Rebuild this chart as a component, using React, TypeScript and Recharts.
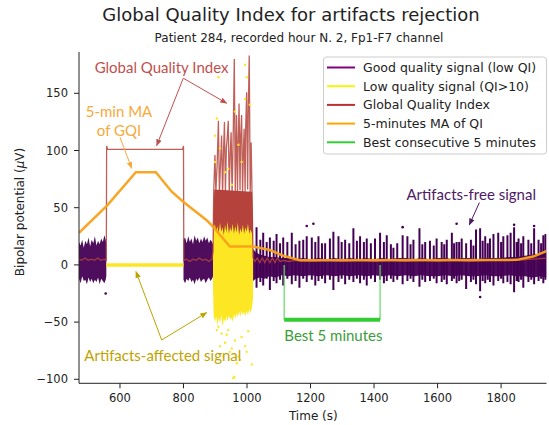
import React from 'react';
import { ComposedChart, XAxis, YAxis, Area, Line, Scatter, ReferenceLine } from 'recharts';

// ---------- axes ----------
const xDomain: [number, number] = [471, 1943];
const yDomain: [number, number] = [-103.5, 186.1];
const xTicks = [600, 800, 1000, 1200, 1400, 1600, 1800];
const yTicks = [-100, -50, 0, 50, 100, 150];

// ---------- good quality signal (time, low, high) ----------
const goodLeft = [
  [471, -12, 20], [476, -16, 17], [481, -10, 22], [486, -14, 15], [491, -13, 21], [496, -17, 18],
  [501, -11, 24], [506, -15, 16], [511, -12, 22], [516, -16, 19], [521, -13, 25], [526, -15, 17],
  [531, -11, 21], [536, -17, 18], [541, -12, 23], [546, -14, 20], [551, -16, 26], [555, -13, 22], [557, -10, 18],
];
const goodMid = [
  [800, -13, 22], [805, -16, 24], [810, -12, 19], [815, -14, 25], [820, -11, 20], [825, -15, 23],
  [830, -13, 18], [835, -17, 26], [840, -12, 21], [845, -14, 24], [850, -11, 19], [855, -15, 23],
  [860, -13, 20], [865, -12, 25], [870, -16, 21], [875, -13, 24], [880, -11, 19], [885, -14, 22],
  [890, -12, 20], [893, -10, 18],
];
const goodRight = [
  [1019, -14, 14], [1028, -12, 11], [1040, -11, 9], [1055, -12, 8], [1070, -10, 7], [1090, -11, 7],
  [1110, -9, 6], [1130, -10, 6], [1150, -9, 5], [1175, -10, 6], [1200, -9, 5], [1225, -10, 6],
  [1250, -9, 5], [1275, -10, 6], [1300, -9, 5], [1325, -10, 6], [1350, -9, 5], [1375, -10, 6],
  [1400, -9, 5], [1425, -10, 6], [1450, -9, 5], [1475, -10, 6], [1500, -9, 6], [1525, -10, 5],
  [1550, -9, 6], [1575, -10, 5], [1600, -10, 6], [1625, -9, 6], [1650, -10, 5], [1675, -9, 6],
  [1700, -10, 6], [1725, -10, 5], [1750, -9, 6], [1775, -10, 6], [1800, -10, 6], [1825, -9, 7],
  [1850, -10, 7], [1875, -10, 8], [1900, -11, 9], [1925, -10, 10], [1943, -11, 11],
];
const goodSpikes = [
  [1030, -20, 33], [1042, -15, 22], [1051, -18, 28], [1062, -12, 20], [1072, -22, 24], [1084, -14, 21],
  [1093, -16, 27], [1104, -13, 19], [1114, -18, 24], [1127, -12, 20], [1141, -17, 28], [1153, -14, 18],
  [1165, -20, 21], [1177, -12, 22], [1188, -15, 25], [1204, -13, 24], [1215, -18, 20], [1225, -14, 25],
  [1236, -12, 19], [1246, -16, 19], [1261, -13, 23], [1272, -22, 29], [1288, -15, 25], [1298, -12, 20],
  [1309, -17, 22], [1322, -13, 19], [1335, -15, 32], [1346, -12, 21], [1356, -16, 25], [1368, -13, 20],
  [1377, -18, 23], [1390, -12, 19], [1403, -15, 23], [1419, -13, 28], [1431, -16, 20], [1440, -14, 26],
  [1453, -12, 18], [1461, -15, 15], [1473, -13, 19], [1490, -17, 26], [1505, -14, 25], [1515, -12, 18],
  [1524, -15, 22], [1543, -19, 32], [1552, -13, 18], [1561, -15, 20], [1576, -14, 21], [1588, -12, 17],
  [1597, -16, 23], [1613, -15, 20], [1621, -13, 18], [1629, -17, 22], [1645, -14, 28], [1652, -12, 19],
  [1660, -16, 20], [1668, -14, 20], [1676, -13, 23], [1690, -21, 19], [1705, -15, 22], [1713, -13, 17],
  [1721, -17, 31], [1734, -23, 32], [1742, -14, 21], [1750, -16, 25], [1758, -13, 19], [1765, -15, 23],
  [1776, -18, 27], [1791, -14, 28], [1800, -12, 20], [1807, -16, 25], [1820, -15, 26], [1830, -17, 28],
  [1841, -24, 33], [1849, -14, 20], [1855, -15, 23], [1863, -13, 19], [1870, -20, 25], [1886, -15, 22],
  [1895, -13, 19], [1904, -17, 32], [1918, -14, 22], [1926, -12, 19], [1933, -16, 26], [1940, -13, 27],
];
const goodDots = [
  [1188, 34], [1209, 36], [1490, 33], [1660, 36], [1841, 35], [1904, 34], [1734, -28], [555, -25],
];

// ---------- low quality signal ----------
const lowFlat = [[557, 0], [800, 0]];
const lowBand = [
  [893, -20, 20], [895, -44, 30], [899, -50, 36], [903, -45, 28], [907, -53, 34], [911, -46, 27],
  [915, -51, 37], [919, -44, 29], [923, -54, 33], [927, -47, 26], [931, -50, 35], [935, -45, 28],
  [939, -49, 38], [943, -44, 27], [947, -48, 33], [951, -46, 29], [955, -50, 36], [959, -43, 27],
  [963, -47, 34], [967, -42, 28], [971, -46, 37], [975, -41, 26], [979, -45, 32], [983, -40, 28],
  [987, -44, 35], [991, -41, 27], [995, -45, 33], [999, -40, 29], [1003, -44, 36], [1007, -39, 27],
  [1011, -42, 31], [1015, -38, 28], [1019, -30, 22],
];
const lowDots = [
  [910, -54], [920, -60], [941, -57], [931, -68], [962, -66], [983, -63], [994, -71], [946, -76],
  [973, -80], [1004, -58], [915, -71], [925, -80], [957, -99], [978, -83], [1015, -87], [999, -76],
  [905, -57], [936, -61], [952, -73], [968, -86], [960, -98],
  [910, 164], [994, 175], [999, 164], [899, 113], [905, 128], [915, 102], [941, 84], [962, 134],
  [983, 90], [994, 145], [1009, 140], [899, 90], [973, 105], [952, 70], [931, 81],
];

// ---------- Global Quality Index ----------
const gqiDense = [[894, 18, 45], [897, 20, 66], [1016, 20, 64], [1019, 15, 40]];
const gqi = [
  [471, 5], [480, 4], [490, 6], [500, 4], [510, 5], [520, 4], [530, 6], [540, 4], [550, 5], [557, 4],
  [558, 104], [561, 101], [797, 101], [800, 104], [801, 4],
  [810, 5], [820, 3], [830, 5], [840, 4], [850, 6], [860, 4], [870, 5], [880, 3], [890, 5], [893, 12],
  [895, 62], [899, 96], [902, 64], [906, 88], [910, 126], [913, 62], [917, 92], [920, 113], [923, 60],
  [926, 98], [929, 125], [932, 63], [935, 102], [938, 112], [941, 126], [944, 62], [947, 97], [950, 116],
  [953, 60], [957, 121], [960, 180], [963, 64], [965, 97], [967, 131], [970, 62], [972, 104], [975, 141],
  [978, 65], [980, 112], [983, 131], [986, 62], [989, 103], [991, 119], [994, 64], [996, 122], [999, 151],
  [1002, 66], [1004, 133], [1007, 183], [1010, 63], [1013, 107], [1016, 58], [1019, 6],
  [1025, 3], [1032, 6], [1040, 2], [1048, 6], [1056, 2], [1064, 6], [1072, 2], [1080, 6], [1088, 2],
  [1096, 6], [1104, 3], [1115, 4], [1130, 3], [1150, 4], [1200, 3], [1250, 4], [1300, 3], [1350, 4],
  [1400, 3], [1450, 4], [1500, 3], [1550, 4], [1600, 3], [1650, 4], [1700, 3], [1750, 4], [1800, 4],
  [1850, 4], [1900, 5], [1943, 6],
];

// ---------- 5-minute moving average of QI ----------
const maQI = [
  [471, 28], [560, 52], [650, 81], [713, 81], [763, 64], [800, 55], [873, 39], [893, 33.5],
  [946, 16], [1020, 16], [1072, 13], [1114, 8], [1167, 4], [1849, 4.4], [1901, 7.3], [1943, 12],
];

// ---------- best consecutive 5 minutes ----------
const bestStart = 1117;
const bestEnd = 1419;
const bestLevel = -48;
const bestTop = 0;

// ---------- annotations (anchor in data coords) ----------
const annotationTexts = [
  { id: 'gqi', t: 731, v: 173.3, text: 'Global Quality Index' },
  { id: 'ma', t: 597, v: 134.6, text: '5-min MA' },
  { id: 'ma', t: 597, v: 118, text: 'of GQI' },
  { id: 'low', t: 735, v: -78.7, text: 'Artifacts-affected signal' },
  { id: 'good', t: 1706, v: 61.8, text: 'Artifacts-free signal' },
  { id: 'best', t: 1272, v: -61.2, text: 'Best 5 minutes' },
];
const annotationArrows = [
  { id: 'gqi', from: [799.3, 163.2], to: [715.6, 104.3] },
  { id: 'gqi', from: [799.3, 163.2], to: [936, 141.3] },
  { id: 'ma', from: [600, 111.6], to: [636.8, 84.5] },
  { id: 'low', from: [731.3, -65.6], to: [650.4, -5.8] },
  { id: 'low', from: [731.3, -65.6], to: [873, -41.7] },
  { id: 'good', from: [1731.7, 54.5], to: [1700, 35] },
];

const legendItems = [
  { key: 'good', label: 'Good quality signal (low QI)' },
  { key: 'low', label: 'Low quality signal (QI>10)' },
  { key: 'gqi', label: 'Global Quality Index' },
  { key: 'ma', label: '5-minutes MA of QI' },
  { key: 'best', label: 'Best consecutive 5 minutes' },
];

// ---------- styles ----------
const C = {
  purple: '#440154',
  yellow: '#fde725',
  red: '#b5423b',
  orange: '#f9a11b',
  green: '#33cc33',
  greenThin: '#62d862',
};
const annColor: Record<string, string> = {
  gqi: '#c0504d',
  ma: '#f7a93b',
  low: '#bfa300',
  good: '#4e1a66',
  best: '#3a9d3a',
};
const legendColor: Record<string, string> = {
  good: '#800080',
  low: '#f5f50a',
  gqi: '#b83232',
  ma: '#ffa500',
  best: '#32cd32',
};

const band = (rows: number[][]) => rows.map(([t, lo, hi]) => ({ t, band: [lo, hi] }));
const pts = (rows: number[][]) => rows.map(([t, v]) => ({ t, v }));
// each spike becomes a vertical stroke: low -> high, then a gap
const spikeStrokes = goodSpikes.flatMap(([t, lo, hi]) => [
  { t, v: lo }, { t, v: hi }, { t, v: null },
]);

const DV = 'DejaVu Sans';
const tickStyle = { fontSize: 11.5, fill: '#222', fontFamily: DV };
const minus = (v: number) => String(v).replace('-', '\u2212');

const dot = (color: string, r: number) => (p: any) =>
  <circle cx={p.cx} cy={p.cy} r={r} fill={color} />;

const textShape = (p: any) => (
  <text x={p.cx} y={p.cy} textAnchor="middle" dominantBaseline="central"
    fill={annColor[p.payload.id]} fontSize={15} fontFamily="Lato">{p.payload.text}</text>
);

export default function App() {
  return (
    <div style={{ position: 'absolute', left: 0, top: 0, width: 549, height: 425, background: '#fff' }}>
      <svg width={549} height={425} style={{ position: 'absolute', left: 0, top: 0 }}>
        <defs>
          {Object.keys(annColor).map((k) => (
            <marker key={k} id={'arr-' + k} viewBox="0 0 10 10" refX="9" refY="5"
              markerWidth="7" markerHeight="7" orient="auto">
              <path d="M0,1 L10,5 L0,9 z" fill={annColor[k]} />
            </marker>
          ))}
        </defs>
        <text x={291} y={20.7} textAnchor="middle" fontSize={18} fontFamily={DV} fill="#222">
          Global Quality Index for artifacts rejection
        </text>
        <text x={299} y={41.7} textAnchor="middle" fontSize={12} fontFamily={DV} fill="#222">
          Patient 284, recorded hour N. 2, Fp1-F7 channel
        </text>
        <text x={313.3} y={419.5} textAnchor="middle" fontSize={12} fontFamily={DV} fill="#222">Time (s)</text>
        <text transform="translate(24,212) rotate(-90)" textAnchor="middle" fontSize={12} fontFamily={DV} fill="#222">
          Bipolar potential (<tspan fontStyle="italic">μ</tspan>V)
        </text>
      </svg>
      <div style={{ position: 'absolute', left: 0, top: 0 }}>
        <ComposedChart width={549} height={425}
          margin={{ top: 52, right: 2.5, bottom: 11.7, left: 19 }}>
          <XAxis dataKey="t" type="number" domain={xDomain} allowDataOverflow ticks={xTicks}
            tickSize={5} tickMargin={6} tick={tickStyle} stroke="#222" height={30} />
          <XAxis xAxisId="top" orientation="top" type="number" domain={xDomain} allowDataOverflow
            height={0} tick={false} tickLine={false} stroke="#222" />
          <YAxis type="number" domain={yDomain} allowDataOverflow ticks={yTicks} width={60}
            tickSize={5} tickMargin={6} tick={tickStyle} stroke="#222" tickFormatter={minus} />
          <YAxis yAxisId="right" orientation="right" type="number" domain={yDomain} allowDataOverflow
            width={0} tick={false} tickLine={false} stroke="#222" />

          <Area data={band(goodLeft)} dataKey="band" type="linear" stroke="none" fill={C.purple}
            fillOpacity={0.95} isAnimationActive={false} />
          <Area data={band(goodMid)} dataKey="band" type="linear" stroke="none" fill={C.purple}
            fillOpacity={0.95} isAnimationActive={false} />
          <Area data={band(goodRight)} dataKey="band" type="linear" stroke="none" fill={C.purple}
            fillOpacity={0.95} isAnimationActive={false} />
          <Line data={spikeStrokes} dataKey="v" type="linear" stroke={C.purple} strokeWidth={2}
            dot={false} connectNulls={false} isAnimationActive={false} />
          <Scatter data={pts(goodDots)} dataKey="v" shape={dot(C.purple, 1.3)} isAnimationActive={false} />

          <Area data={band(gqiDense)} dataKey="band" type="linear" stroke="none" fill={C.red}
            fillOpacity={1} isAnimationActive={false} />
          <Line data={pts(gqi)} dataKey="v" type="linear" stroke={C.red} strokeWidth={1.3}
            strokeOpacity={0.85} dot={false} isAnimationActive={false} />

          <Area data={band(lowBand)} dataKey="band" type="linear" stroke="none" fill={C.yellow}
            fillOpacity={1} isAnimationActive={false} />
          <Scatter data={pts(lowDots)} dataKey="v" shape={dot(C.yellow, 1.2)} isAnimationActive={false} />
          <Line data={pts(lowFlat)} dataKey="v" type="linear" stroke={C.yellow} strokeWidth={3.5}
            dot={false} isAnimationActive={false} />

          <Line data={pts(maQI)} dataKey="v" type="linear" stroke={C.orange} strokeWidth={2.5}
            strokeOpacity={0.95} dot={false} isAnimationActive={false} />

          <Line data={[{ t: bestStart, v: bestTop }, { t: bestStart, v: bestLevel }]} dataKey="v"
            stroke={C.greenThin} strokeWidth={1.2} dot={false} isAnimationActive={false} />
          <Line data={[{ t: bestEnd, v: bestTop }, { t: bestEnd, v: bestLevel }]} dataKey="v"
            stroke={C.greenThin} strokeWidth={1.2} dot={false} isAnimationActive={false} />
          <Line data={[{ t: bestStart, v: bestLevel }, { t: bestEnd, v: bestLevel }]} dataKey="v"
            stroke={C.green} strokeWidth={4} dot={false} isAnimationActive={false} />

          {annotationArrows.map((a, i) => (
            <ReferenceLine key={i} segment={[{ x: a.from[0], y: a.from[1] }, { x: a.to[0], y: a.to[1] }]}
              stroke={annColor[a.id]} strokeWidth={1} markerEnd={`url(#arr-${a.id})`} />
          ))}
          <Scatter data={annotationTexts} dataKey="v" shape={textShape} isAnimationActive={false} />
        </ComposedChart>
      </div>
      <svg width={549} height={425} style={{ position: 'absolute', left: 0, top: 0, pointerEvents: 'none' }}>
        <rect x={323.5} y={57} width={223} height={97} rx={3} fill="#fff" fillOpacity={0.8} stroke="#cccccc" />
        {legendItems.map((it, i) => {
          const y = 67.5 + i * 18.7;
          return (
            <g key={it.key}>
              <line x1={327} x2={355} y1={y} y2={y} stroke={legendColor[it.key]} strokeWidth={2} />
              <text x={363} y={y} dominantBaseline="central" fontSize={12.5} fontFamily={DV} fill="#222">
                {it.label}
              </text>
            </g>
          );
        })}
      </svg>
    </div>
  );
}
